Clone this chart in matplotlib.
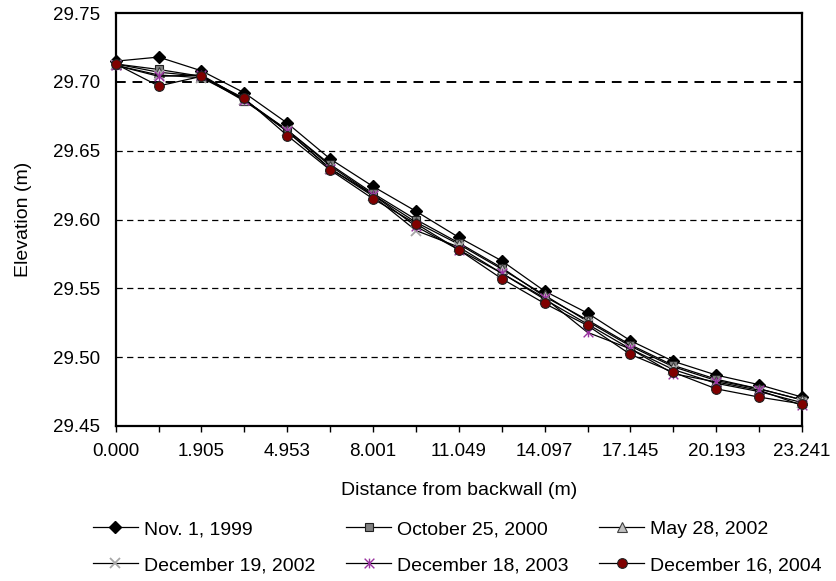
import matplotlib
matplotlib.use('Agg')
import matplotlib.pyplot as plt
from matplotlib.path import Path

plt.rcParams['font.family'] = ['Liberation Sans', 'DejaVu Sans']

distances = ['0.000', '0.381', '1.905', '3.429', '4.953', '6.477', '8.001', '9.525',
             '11.049', '12.573', '14.097', '15.621', '17.145', '18.669', '20.193',
             '21.717', '23.241']

nov_1999 = [29.715, 29.718, 29.708, 29.692, 29.670, 29.644, 29.624, 29.606, 29.587,
            29.570, 29.548, 29.532, 29.512, 29.497, 29.487, 29.480, 29.471]
oct_2000 = [29.713, 29.709, 29.704, 29.686, 29.665, 29.640, 29.619, 29.600, 29.583,
            29.565, 29.544, 29.527, 29.509, 29.494, 29.484, 29.477, 29.469]
may_2002 = [29.713, 29.707, 29.704, 29.687, 29.665, 29.639, 29.618, 29.598, 29.582,
            29.564, 29.545, 29.526, 29.508, 29.493, 29.483, 29.477, 29.469]
dec_2002 = [29.712, 29.705, 29.703, 29.687, 29.664, 29.637, 29.617, 29.592, 29.580,
            29.561, 29.542, 29.524, 29.506, 29.491, 29.481, 29.475, 29.467]
dec_2003 = [29.712, 29.704, 29.705, 29.687, 29.664, 29.637, 29.618, 29.595, 29.578,
            29.561, 29.543, 29.518, 29.506, 29.488, 29.482, 29.476, 29.465]
dec_2004 = [29.713, 29.697, 29.704, 29.688, 29.661, 29.636, 29.615, 29.597, 29.578,
            29.557, 29.539, 29.523, 29.502, 29.489, 29.477, 29.471, 29.466]

labels = ['Nov. 1, 1999', 'October 25, 2000', 'May 28, 2002',
          'December 19, 2002', 'December 18, 2003', 'December 16, 2004']
y_ticks = [29.45, 29.50, 29.55, 29.60, 29.65, 29.70, 29.75]

star = Path([(0, -1), (0, 1), (-1, -1), (1, 1), (-1, 1), (1, -1)],
            [Path.MOVETO, Path.LINETO, Path.MOVETO, Path.LINETO, Path.MOVETO, Path.LINETO])

styles = [
    dict(marker='D', ms=6, mfc='black', mec='black'),
    dict(marker='s', ms=6, mfc='#808080', mec='#202020', mew=0.8),
    dict(marker='^', ms=6.5, mfc='#c0c0c0', mec='#404040', mew=0.8),
    dict(marker='x', ms=7, mfc='none', mec='#a6a6a6', mew=1.3),
    dict(marker=star, ms=7, mfc='none', mec='#9933a0', mew=1.0),
    dict(marker='o', ms=7, mfc='#800000', mec='#202020', mew=0.8),
]

fig = plt.figure(figsize=(8.36, 5.81), dpi=100)
ax = fig.add_axes([0.1384, 0.2668, 0.9593 - 0.1384, 0.9776 - 0.2668])

x = list(range(len(distances)))
series = [nov_1999, oct_2000, may_2002, dec_2002, dec_2003, dec_2004]
handles = []
for s, st, lab in zip(series, styles, labels):
    h, = ax.plot(x, s, color='black', lw=0.9, label=lab, clip_on=False, zorder=3, **st)
    handles.append(h)

ax.set_xlim(0, len(distances) - 1)
ax.set_ylim(29.45, 29.75)
ax.set_yticks(y_ticks)
ax.set_yticklabels([f'{v:.2f}' for v in y_ticks])
ax.set_xticks(x)
ax.set_xticklabels([d if i % 2 == 0 else '' for i, d in enumerate(distances)])

for v in y_ticks[1:-1]:
    ax.axhline(v, color='black', lw=1.4 if abs(v - 29.70) < 1e-9 else 0.9,
               ls=(0, (5, 3.5)), zorder=1)

for sp in ax.spines.values():
    sp.set_linewidth(1.6)
    sp.set_color('black')

ax.tick_params(axis='y', length=0, pad=11, labelsize=13.5)
ax.tick_params(axis='x', length=4, width=1, direction='out', pad=8, labelsize=13.5)

ax.set_xlabel('Distance from backwall (m)', fontsize=14, labelpad=16)
ax.set_ylabel('Elevation (m)', fontsize=14, labelpad=15)

order = [0, 3, 1, 4, 2, 5]
fig.legend([handles[i] for i in order], [labels[i] for i in order],
           ncol=3, loc='center', bbox_to_anchor=(0.547, 0.058), frameon=False,
           fontsize=14, handlelength=2.3, handletextpad=0.3, columnspacing=1.6,
           labelspacing=0.95)

fig.savefig('out.png', dpi=100)
